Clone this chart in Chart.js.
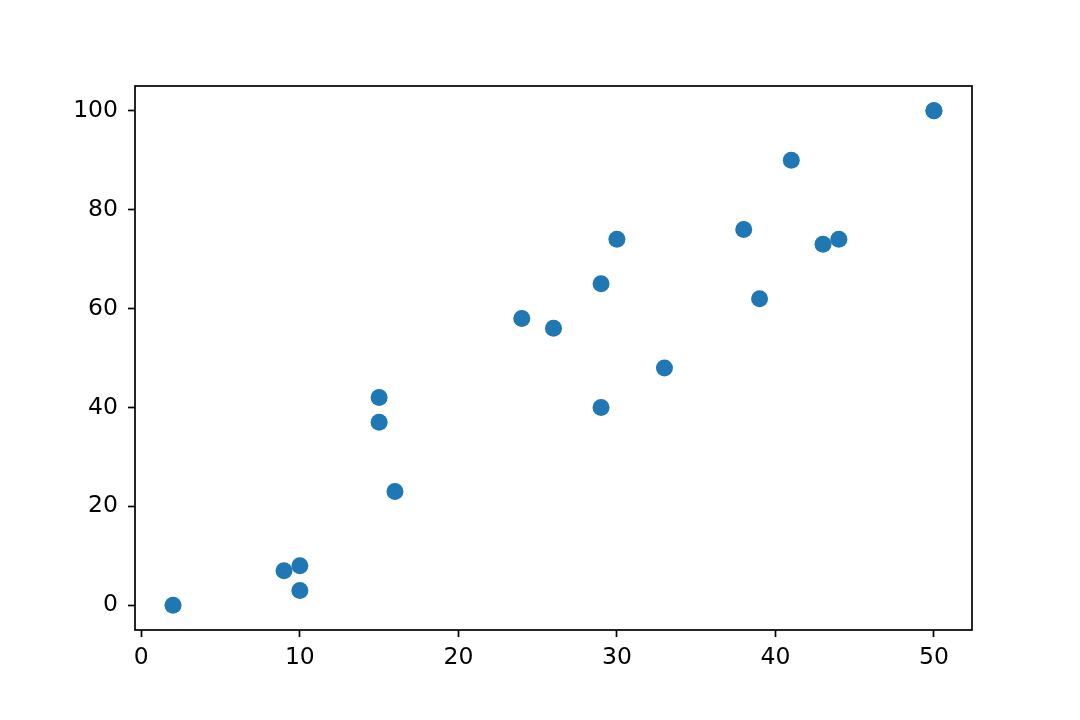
<!DOCTYPE html>
<html>
<head>
<meta charset="utf-8">
<script src="https://cdn.jsdelivr.net/npm/chart.js@4"></script>
<style>
  html, body { margin: 0; padding: 0; background: #fff; }
</style>
</head>
<body>
<canvas id="graph" width="1080" height="720"></canvas>
<script>
const xValues = [2, 9, 10, 10, 15, 15, 16, 24, 26, 29, 29, 30, 33, 38, 39, 41, 43, 44, 50, 50];
const yValues = [0, 7, 8, 3, 42, 37, 23, 58, 56, 65, 40, 74, 48, 76, 62, 90, 73, 74, 100, 100];
const xTicks = [0, 10, 20, 30, 40, 50];
const yTicks = [0, 20, 40, 60, 80, 100];

const g = document.getElementById('graph')

// draws the four spines round the plot area
const frame = {
  id: 'frame',
  afterDraw(chart) {
    const a = chart.chartArea
    const ctx = chart.ctx
    ctx.save()
    ctx.strokeStyle = '#000'
    ctx.lineWidth = 1.7
    ctx.strokeRect(a.left, a.top, a.right - a.left, a.bottom - a.top)
    ctx.restore()
  }
}

const tickFont = { family: 'DejaVu Sans', size: 23.5 }

new Chart(g, {
  type: 'scatter',
  data: {
    datasets: [{
      data: xValues.map((x, i) => ({ x: x, y: yValues[i] })),
      backgroundColor: '#1f77b4',
      borderWidth: 0,
      pointRadius: 8.5,
      pointHoverRadius: 8.5
    }]
  },
  options: {
    responsive: false,
    animation: false,
    layout: { padding: { left: 0, top: 86, right: 108, bottom: 0 } },
    plugins: { legend: { display: false }, tooltip: { enabled: false } },
    scales: {
      x: {
        type: 'linear',
        min: -0.4,
        max: 52.4,
        afterBuildTicks: s => { s.ticks = xTicks.map(v => ({ value: v })) },
        afterFit: s => { s.height = 90 },
        grid: { drawOnChartArea: false, tickLength: 7, tickColor: '#000', tickWidth: 1.7 },
        border: { display: false },
        ticks: { color: '#000', font: tickFont, padding: 7, maxRotation: 0 }
      },
      y: {
        type: 'linear',
        min: -5,
        max: 105,
        afterBuildTicks: s => { s.ticks = yTicks.map(v => ({ value: v })) },
        afterFit: s => { s.width = 135 },
        grid: { drawOnChartArea: false, tickLength: 7, tickColor: '#000', tickWidth: 1.7 },
        border: { display: false },
        ticks: { color: '#000', font: tickFont, padding: 10 }
      }
    }
  },
  plugins: [frame]
});
</script>
</body>
</html>
